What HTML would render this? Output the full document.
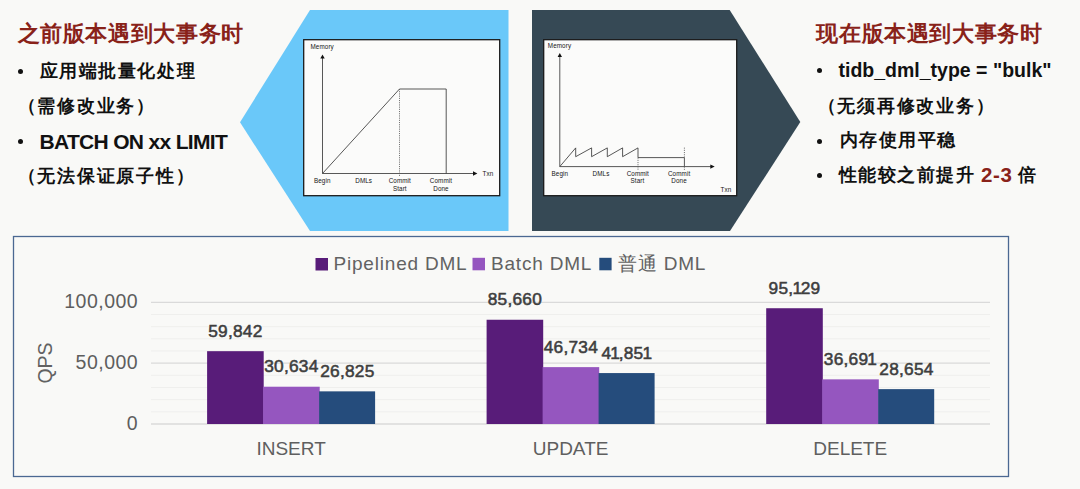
<!DOCTYPE html>
<html><head><meta charset="utf-8">
<style>
*{margin:0;padding:0;box-sizing:border-box}
html,body{width:1080px;height:489px;overflow:hidden;background:#f9f9f7;font-family:"Liberation Sans",sans-serif}
.abs{position:absolute;left:0;top:0}
.title{position:absolute;color:#892219;font-size:22px;letter-spacing:0.62px;font-weight:bold;white-space:nowrap;line-height:1}
.t{position:absolute;color:#111;font-size:18px;letter-spacing:1.6px;font-weight:bold;white-space:nowrap;line-height:1}
.p{letter-spacing:1.8px}
.dot{position:absolute;width:5px;height:5px;border-radius:50%;background:#111}
</style></head><body>
<svg class="abs" width="1080" height="489">
<style>
.dg{font-family:"Liberation Sans",sans-serif;font-size:6.3px;fill:#151515;text-anchor:middle;letter-spacing:0.1px}
.vl{font-family:"Liberation Sans",sans-serif;font-weight:normal;font-size:17.3px;letter-spacing:0.25px;fill:#3e3e3e;stroke:#3e3e3e;stroke-width:0.55px;text-anchor:middle}
.cat{font-family:"Liberation Sans",sans-serif;font-size:19px;fill:#5f5f5f;text-anchor:middle}
.yl{font-family:"Liberation Sans",sans-serif;font-size:19.5px;letter-spacing:0.5px;fill:#5e5e5e;text-anchor:end}
.lg{font-family:"Liberation Sans",sans-serif;font-size:19px;letter-spacing:0.8px;fill:#626262}
</style>
<polygon points="310,10 508.5,10 508.5,231 310,231 240,122.3" fill="#6ac8f9"/>
<polygon points="532,10 729.7,10 800.3,122 730,231 532,231" fill="#364955"/>
<rect x="303.7" y="39.7" width="196" height="156" fill="#fbfbfa" stroke="#1a1a1a" stroke-width="1.3"/>
<rect x="543.7" y="39.7" width="193" height="156" fill="#fbfbfa" stroke="#1a1a1a" stroke-width="1.3"/>
<rect x="13.5" y="236.5" width="995" height="240" fill="#f9f9f7" stroke="#4b6892" stroke-width="1.3"/>
<g stroke="#3a3a3a" stroke-width="0.85" fill="none">
 <line x1="322.5" y1="173.5" x2="322.5" y2="57.5"/>
 <line x1="322.5" y1="173.5" x2="474" y2="173.5"/>
 <polyline points="322.5,173.5 399.5,89 446.2,89 446.2,173.5"/>
 <line x1="399.5" y1="89" x2="399.5" y2="176" stroke-dasharray="1.1,1.1" stroke="#5a5a5a"/>
 <line x1="559.8" y1="166.6" x2="559.8" y2="56"/>
 <line x1="559.8" y1="166.6" x2="712" y2="166.6"/>
 <polyline points="559.8,166.6 575.7,147.9 575.7,156.7 591.6,147.9 591.6,156.7 607.3,147.9 607.3,156.7 622.6,147.9 622.6,156.7 638,147.9 638,157.6 684.4,157.6 684.4,166.6"/>
 <line x1="638" y1="157.6" x2="638" y2="170" stroke-dasharray="1.1,1.1" stroke="#5a5a5a"/>
 <line x1="684.4" y1="147.6" x2="684.4" y2="157.6" stroke-dasharray="1.1,1.1" stroke="#5a5a5a"/>
 <line x1="684.4" y1="166.6" x2="684.4" y2="170" stroke-dasharray="1.1,1.1" stroke="#5a5a5a"/>
</g>
<g fill="#111">
 <polygon points="322.5,54.6 320.3,58.5 324.7,58.5"/>
 <polygon points="477.4,173.5 473,171.3 473,175.7"/>
 <polygon points="559.8,53 557.6,56.9 562,56.9"/>
 <polygon points="714.7,166.6 710.3,164.4 710.3,168.8"/>
</g>
<text class="dg" x="322.2" y="48.5">Memory</text>
<text class="dg" x="488" y="176">Txn</text>
<text class="dg" x="322.2" y="183">Begin</text>
<text class="dg" x="363.7" y="183">DMLs</text>
<text class="dg" x="399.8" y="183">Commit</text>
<text class="dg" x="399.8" y="190.5">Start</text>
<text class="dg" x="441" y="183">Commit</text>
<text class="dg" x="441" y="190.5">Done</text>
<text class="dg" x="559.5" y="47.6">Memory</text>
<text class="dg" x="726" y="192">Txn</text>
<text class="dg" x="559.8" y="176.2">Begin</text>
<text class="dg" x="601" y="176.2">DMLs</text>
<text class="dg" x="637.8" y="176.2">Commit</text>
<text class="dg" x="637.4" y="183">Start</text>
<text class="dg" x="679.1" y="176.2">Commit</text>
<text class="dg" x="679.1" y="183">Done</text>
<line x1="151" y1="424.00" x2="990" y2="424.00" stroke="#dadada" stroke-width="1.3"/>
<line x1="151" y1="411.83" x2="990" y2="411.83" stroke="#efefed" stroke-width="1"/>
<line x1="151" y1="399.66" x2="990" y2="399.66" stroke="#efefed" stroke-width="1"/>
<line x1="151" y1="387.49" x2="990" y2="387.49" stroke="#efefed" stroke-width="1"/>
<line x1="151" y1="375.32" x2="990" y2="375.32" stroke="#efefed" stroke-width="1"/>
<line x1="151" y1="363.15" x2="990" y2="363.15" stroke="#dadada" stroke-width="1.3"/>
<line x1="151" y1="350.98" x2="990" y2="350.98" stroke="#efefed" stroke-width="1"/>
<line x1="151" y1="338.81" x2="990" y2="338.81" stroke="#efefed" stroke-width="1"/>
<line x1="151" y1="326.64" x2="990" y2="326.64" stroke="#efefed" stroke-width="1"/>
<line x1="151" y1="314.47" x2="990" y2="314.47" stroke="#efefed" stroke-width="1"/>
<line x1="151" y1="302.30" x2="990" y2="302.30" stroke="#dadada" stroke-width="1.3"/>
<rect x="207.10" y="351.17" width="56.60" height="72.83" fill="#581c79"/>
<rect x="263.10" y="386.72" width="56.60" height="37.28" fill="#9556bf"/>
<rect x="319.10" y="391.35" width="56.00" height="32.65" fill="#254c7c"/>
<text x="235.40" y="336.87" class="vl">59,842</text>
<text x="291.40" y="372.42" class="vl">30,634</text>
<text x="347.40" y="377.05" class="vl">26,825</text>
<text x="291.10" y="455.3" class="cat">INSERT</text>
<rect x="486.60" y="319.75" width="56.60" height="104.25" fill="#581c79"/>
<rect x="542.60" y="367.12" width="56.60" height="56.88" fill="#9556bf"/>
<rect x="598.60" y="373.07" width="56.00" height="50.93" fill="#254c7c"/>
<text x="514.90" y="305.45" class="vl">85,660</text>
<text x="570.90" y="352.82" class="vl">46,734</text>
<text x="626.90" y="358.77" class="vl">4<tspan dx="-1.0">1</tspan><tspan dx="-1.6">,</tspan>85<tspan dx="-1.0">1</tspan></text>
<text x="570.60" y="455.3" class="cat">UPDATE</text>
<rect x="766.20" y="308.23" width="56.60" height="115.77" fill="#581c79"/>
<rect x="822.20" y="379.35" width="56.60" height="44.65" fill="#9556bf"/>
<rect x="878.20" y="389.13" width="56.00" height="34.87" fill="#254c7c"/>
<text x="794.50" y="293.93" class="vl">95,<tspan dx="-1.0">1</tspan><tspan dx="-1.6">2</tspan>9</text>
<text x="850.50" y="365.05" class="vl">36,69<tspan dx="-1.0">1</tspan></text>
<text x="906.50" y="374.83" class="vl">28,654</text>
<text x="850.20" y="455.3" class="cat">DELETE</text>
<text x="138.2" y="429.50" class="yl">0</text>
<text x="138.2" y="368.65" class="yl">50,000</text>
<text x="138.2" y="307.80" class="yl">100,000</text>
<rect x="315.5" y="258" width="12.5" height="12.5" fill="#581c79"/>
<text x="333.5" y="270" class="lg">Pipelined DML</text>
<rect x="472.5" y="257.8" width="12.5" height="12.5" fill="#9556bf"/>
<text x="491" y="270" class="lg">Batch DML</text>
<rect x="599.3" y="257.8" width="12.3" height="12.5" fill="#254c7c"/>
<text x="618" y="270" class="lg">普通 DML</text>
<text transform="translate(51.5,363) rotate(-90)" class="lg" style="text-anchor:middle;font-size:19.5px;letter-spacing:0">QPS</text>
</svg>
<div class="title" style="left:17.6px;top:22.5px">之前版本遇到大事务时</div>
<div class="dot" style="left:17.7px;top:68.5px"></div>
<div class="t" style="left:39.5px;top:61.5px">应用端批量化处理</div>
<div class="t p" style="left:17.5px;top:96.7px">（需修改业务）</div>
<div class="dot" style="left:17.7px;top:138.7px"></div>
<div class="t" style="left:39.5px;top:130.6px;font-size:21px;letter-spacing:-0.68px">BATCH ON xx LIMIT</div>
<div class="t p" style="left:17.5px;top:166.8px">（无法保证原子性）</div>

<div class="title" style="left:816.3px;top:22.5px">现在版本遇到大事务时</div>
<div class="dot" style="left:817.3px;top:67.7px"></div>
<div class="t" style="left:838.5px;top:61px;font-size:19.5px;letter-spacing:0">tidb_dml_type = "bulk"</div>
<div class="t p" style="left:817.5px;top:97px">（无须再修改业务）</div>
<div class="dot" style="left:817.3px;top:138.7px"></div>
<div class="t" style="left:839.5px;top:131px">内存使用平稳</div>
<div class="dot" style="left:817.3px;top:173.3px"></div>
<div class="t" style="left:838.5px;top:166px;letter-spacing:1.5px">性能较之前提升</div>
<div class="t" style="left:981px;top:164.5px;color:#892219;font-size:20.5px;letter-spacing:0.6px">2-3</div>
<div class="t" style="left:1018px;top:166px">倍</div>
</body></html>
